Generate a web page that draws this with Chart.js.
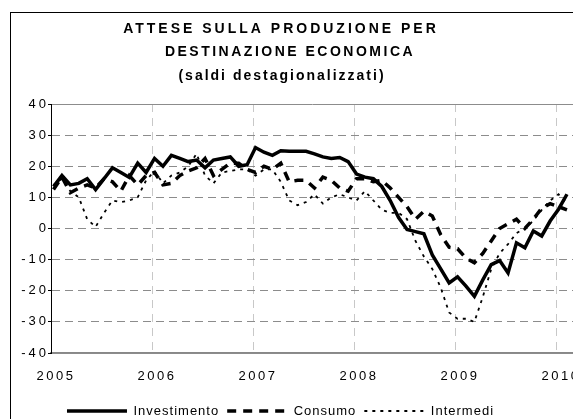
<!DOCTYPE html>
<html><head><meta charset="utf-8">
<script src="https://cdn.jsdelivr.net/npm/chart.js@4.4.0/dist/chart.umd.min.js"></script>
<style>html,body{margin:0;padding:0;background:#fff;overflow:hidden}#wrap{width:573px;height:419px;position:relative}</style>
</head><body><div id="wrap"><canvas id="c" width="573" height="419"></canvas></div>
<script>
const titleLines = ['ATTESE SULLA PRODUZIONE PER', 'DESTINAZIONE ECONOMICA', '(saldi destagionalizzati)'];
const seriesNames = ['Investimento', 'Consumo', 'Intermedi'];
const yearTicks = [2005, 2006, 2007, 2008, 2009, 2010];
const yTicks = [-40, -30, -20, -10, 0, 10, 20, 30, 40];

// months Jan 2005 .. Feb 2010
const months = [];
for (let y = 2005; y <= 2010; y++) for (let m = 1; m <= 12; m++) if (months.length < 62) months.push([y, m]);

const investimento = [13.5, 17, 14, 14.5, 16, 12.5, 16, 19.5, 18, 16.4, 21, 18,
  22.5, 20, 23.5, 22.5, 21.5, 22, 19.5, 22, 22.5, 23, 20, 20.5,
  26, 24.5, 23.5, 25, 24.8, 24.8, 24.8, 24, 23, 22.5, 22.8, 21.5,
  17.5, 16.5, 16, 13.5, 9, 3.5, -0.3, -1, -1.7, -8.5, -13, -17.5,
  -15.5, -18.5, -21.8, -16.5, -11.6, -10.3, -14.3, -4.6, -6.2, -0.8, -2.4, 2.4,
  6.2, 11];
const consumo = [12.5, 16.5, 11.5, 13, 14, 13, 16, 15, 12, 17, 14, 17,
  18, 14, 14.5, 17, 18.5, 19.5, 22.5, 17, 19, 21, 21, 19,
  18, 20, 19, 21, 15, 15.5, 15.5, 13, 16.5, 15.5, 13, 12,
  16, 16, 15, 15.5, 13, 10, 7, 3, 5.5, 4, -2, -6,
  -6.5, -9.5, -11, -8, -4, 0, 1.5, 3, 0, 3, 6.5, 8,
  7, 6];
const intermedi = [14, 16, 12, 10, 3, 0.5, 5, 9, 8.5, 9, 10, 15.5,
  18.5, 14.5, 17, 18, 20, 24, 17, 14.5, 18, 18.5, 19, 19,
  17, 19, 19, 15, 9, 7.5, 8.5, 11, 8, 10, 11, 10,
  9, 12, 9, 6, 5, 5, 3, -4, -9, -13, -19, -27,
  -29, -29, -30, -22, -13, -8, -5, -1.5, 0, 2.5, 6, 9,
  11, 8];

const xs = months.map(([y, m]) => y + (m - 1 + 0.3) / 12);
const pts = arr => arr.map((v, i) => ({x: xs[i], y: v}));

const FONT = "'Liberation Sans', Arial, sans-serif";

function withSpacing(obj, names, sp) {
  if (!obj) return;
  names.forEach(n => {
    const o = obj[n];
    if (!o || o.__sp) return;
    const f = function (...a) {
      const c = this.ctx;
      const p = c.letterSpacing;
      c.letterSpacing = sp;
      try { return o.apply(this, a); } finally { c.letterSpacing = p; }
    };
    f.__sp = true;
    obj[n] = f;
  });
}

const decor = {
  id: 'decor',
  beforeLayout(chart) {
    withSpacing(chart.scales.x, ['update', 'draw'], '2.5px');
    withSpacing(chart.scales.y, ['update', 'draw'], '3px');
    withSpacing(chart.legend, ['update', 'draw'], '1px');
  },
  afterLayout(chart) {
    const lg = chart.legend;
    if (lg) {
      const target = 412 - 9 - 6.5;
      const dy = target - lg.top;
      lg.top += dy; lg.bottom += dy;
      lg.left -= 6; lg.right -= 6;
    }
  },
  beforeDraw(chart) {
    const c = chart.ctx;
    c.save();
    c.fillStyle = '#fff';
    c.fillRect(0, 0, chart.width, chart.height);
    c.restore();
  },
  afterDraw(chart) {
    const c = chart.ctx;
    c.save();
    c.strokeStyle = '#000';
    c.lineWidth = 1;
    c.strokeRect(10.5, 12.5, 800, 800);
    c.fillStyle = '#000';
    c.textAlign = 'center';
    c.textBaseline = 'middle';
    c.font = 'bold 14px ' + FONT;
    c.letterSpacing = '3px';
    c.fillText(titleLines[0], 281, 29);
    c.letterSpacing = '2.5px';
    c.fillText(titleLines[1], 290, 52.5);
    c.letterSpacing = '2px';
    c.fillText(titleLines[2], 282, 76);
    c.restore();
  }
};

const legendLabels = chart => {
  const items = Chart.defaults.plugins.legend.labels.generateLabels(chart);
  items.forEach((it, i) => {
    const ds = chart.data.datasets[it.datasetIndex != null ? it.datasetIndex : i];
    it.lineDash = ds.borderDash || [];
    it.lineWidth = ds.borderWidth;
    it.strokeStyle = ds.borderColor;
  });
  return items;
};

new Chart(document.getElementById('c'), {
  type: 'line',
  data: {
    datasets: [
      {label: seriesNames[0], data: pts(investimento), borderColor: '#000', backgroundColor: '#000',
       borderWidth: 3.5, pointRadius: 0, tension: 0, fill: false},
      {label: seriesNames[1], data: pts(consumo), borderColor: '#000', backgroundColor: '#000',
       borderWidth: 3.5, borderDash: [9, 7], pointRadius: 0, tension: 0, fill: false},
      {label: seriesNames[2], data: pts(intermedi), borderColor: '#000', backgroundColor: '#000',
       borderWidth: 1.8, borderDash: [3, 5], pointRadius: 0, tension: 0, fill: false}
    ]
  },
  options: {
    responsive: false,
    animation: false,
    events: [],
    layout: {padding: {top: 104, left: 0, right: 0, bottom: 0}},
    plugins: {
      title: {display: false},
      tooltip: {enabled: false},
      legend: {
        display: true,
        position: 'bottom',
        labels: {
          usePointStyle: true,
          pointStyle: 'line',
          pointStyleWidth: 60,
          boxHeight: 13,
          padding: 8,
          color: '#000',
          font: {family: FONT, size: 13},
          generateLabels: legendLabels
        }
      }
    },
    scales: {
      x: {
        type: 'linear',
        min: 2005,
        max: 2010.168,
        afterBuildTicks: s => { s.ticks = yearTicks.map(v => ({value: v})); },
        afterFit: s => { s.height = 35; s.paddingLeft = 0; s.paddingRight = 0; },
        ticks: {includeBounds: false, padding: 16, labelOffset: 5, color: '#000', font: {family: FONT, size: 13},
                maxRotation: 0, autoSkip: false, callback: v => String(v)},
        grid: {color: '#c8c8c8', lineWidth: 1, drawTicks: false},
        border: {display: true, color: '#888', width: 2, dash: [8, 6]}
      },
      y: {
        min: -40,
        max: 40,
        afterBuildTicks: s => { s.ticks = yTicks.map(v => ({value: v})); },
        afterFit: s => { s.width = 51; },
        ticks: {padding: -1, color: '#000', font: {family: FONT, size: 13}, callback: v => String(v)},
        grid: {color: '#8c8c8c', lineWidth: 1, drawTicks: true, tickLength: 3,
               tickColor: '#000', tickBorderDash: [], tickWidth: 1},
        border: {display: true, color: '#000', width: 1,
                 dash: ctx => (ctx.tick && Math.abs(ctx.tick.value) === 40) ? [] : [8, 5]}
      }
    }
  },
  plugins: [decor]
});
</script>
</body></html>
